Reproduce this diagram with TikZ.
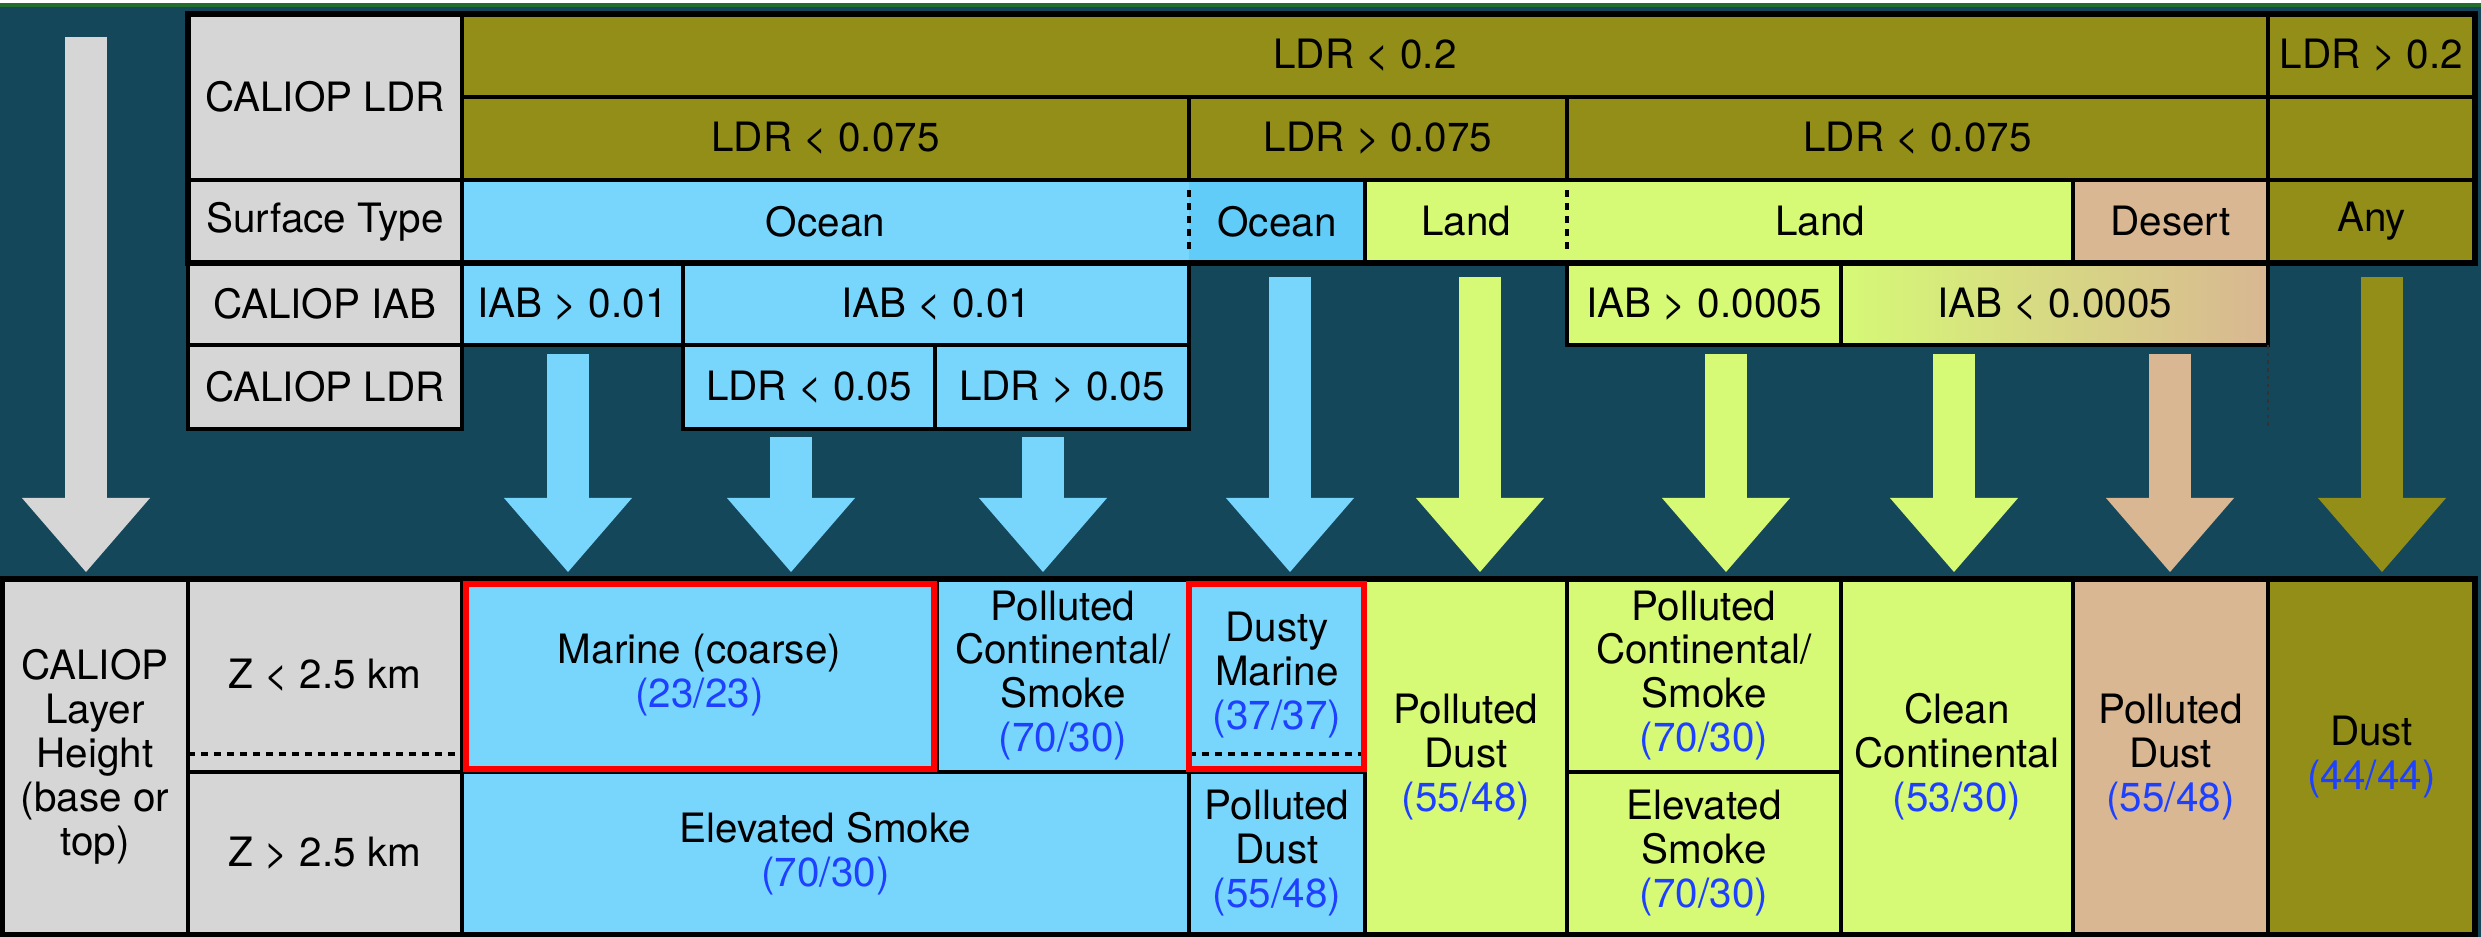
\documentclass[tikz,border=0pt]{standalone}
\usepackage{fontspec}
\setmainfont{TeX Gyre Heros}
\usepackage{xcolor}
\usetikzlibrary{arrows.meta}

\definecolor{bgteal}{RGB}{21,71,91}
\definecolor{olv}{RGB}{147,142,24}
\definecolor{skyb}{RGB}{120,214,253}
\definecolor{oceanb}{RGB}{98,204,248}
\definecolor{limeg}{RGB}{214,249,118}
\definecolor{tanc}{RGB}{216,183,146}
\definecolor{lgray}{RGB}{214,214,214}
\definecolor{numblue}{RGB}{30,64,255}
\definecolor{topgreen}{RGB}{35,110,45}

\newcommand{\cellfont}{\fontsize{11.5pt}{12.5pt}\selectfont}
\newcommand{\rnum}[1]{\textcolor{numblue}{(#1)}}

\begin{document}
\begin{tikzpicture}[x=0.01cm,y=-0.01cm,
  cell/.style={draw=black,line width=1.1pt,fill=#1,inner sep=0pt,outer sep=0pt,
    anchor=north west,align=center,font=\cellfont},
  cellnb/.style={cell=#1,draw=none},
  sz/.style 2 args={minimum width=#1*0.01cm,minimum height=#2*0.01cm},
  border/.style={draw=black,line width=1.1pt},
  outer/.style={draw=black,line width=1.5pt},
  dashln/.style={draw=black,line width=1pt,dash pattern=on 2pt off 1.7pt},
  redbox/.style={draw=red,line width=1.7pt},
  fatarrow/.style={draw=#1,line width=0.42cm,-{Triangle[width=1.28cm,length=0.74cm,line width=0pt]}}]
\useasboundingbox (0,0) rectangle (2481,937);

% background
\fill[bgteal] (0,0) rectangle (2481,937);
\fill[white] (0,0) rectangle (2481,3);
\fill[topgreen] (0,3) rectangle (2481,7);

% Header: CALIOP LDR rows
\node[cell=lgray, sz={274}{166}] (ldrhdr) at (188,14) {CALIOP LDR};
\node[cell=olv, sz={1806}{83}] (ldrlow) at (462,14) {LDR < 0.2};
\node[cell=olv, sz={207}{83}] (ldrhigh) at (2268,14) {LDR > 0.2};
\node[cell=olv, sz={727}{83}] (ldrA) at (462,97) {LDR < 0.075};
\node[cell=olv, sz={378}{83}] (ldrB) at (1189,97) {LDR > 0.075};
\node[cell=olv, sz={701}{83}] (ldrC) at (1567,97) {LDR < 0.075};
\node[cell=olv, sz={207}{83}] (ldrD) at (2268,97) {};

% Surface type row
\node[cell=lgray, sz={274}{83}] (surfhdr) at (188,180) {Surface Type};
\node[cellnb=skyb, sz={727}{83}] (ocean1) at (462,180) {Ocean};
\node[cellnb=oceanb, sz={176}{83}] (ocean2) at (1189,180) {Ocean};
\node[cellnb=limeg, sz={202}{83}] (land1) at (1365,180) {Land};
\node[cellnb=limeg, sz={506}{83}] (land2) at (1567,180) {Land};
\node[cell=tanc, sz={195}{83}] (desert) at (2073,180) {Desert};
\node[cell=olv, sz={207}{83}] (anysurf) at (2268,180) {Any};
\draw[border] (ocean1.north west) rectangle (land2.south east);
\draw[border] (ocean2.north east) -- (ocean2.south east);
\draw[dashln, shorten <=0.1cm, shorten >=0.1cm] (ocean1.north east) -- (ocean1.south east);
\draw[dashln, shorten <=0.1cm, shorten >=0.1cm] (land1.north east) -- (land1.south east);

% CALIOP IAB row
\node[cell=lgray, sz={274}{82}] (iabhdr) at (188,263) {CALIOP IAB};
\node[cell=skyb, sz={221}{82}] (iabA) at (462,263) {IAB > 0.01};
\node[cell=skyb, sz={506}{82}] (iabB) at (683,263) {IAB < 0.01};
\node[cell=limeg, sz={274}{82}] (iabC) at (1567,263) {IAB > 0.0005};
\node[cell=limeg, left color=limeg, right color=tanc, sz={427}{82}] (iabD) at (1841,263) {IAB < 0.0005};
\draw[black!80, line width=0.6pt, dash pattern=on 1pt off 1.2pt] (iabD.south east) -- ++(0,82);

% second CALIOP LDR row
\node[cell=lgray, sz={274}{84}] (ldrhdr2) at (188,345) {CALIOP LDR};
\node[cell=skyb, sz={252}{84}] (ldrE) at (683,345) {LDR < 0.05};
\node[cell=skyb, sz={254}{84}] (ldrF) at (935,345) {LDR > 0.05};

\draw[outer] (ldrhdr.north west) rectangle (anysurf.south east);

% Bottom table: aerosol types
\node[cell=lgray, sz={186}{356}] (lhgt) at (2,579) {CALIOP\\Layer\\Height\\(base or\\top)};
\node[cell=lgray, sz={274}{193}] (zlow) at (188,579) {Z < 2.5 km};
\node[cell=lgray, sz={274}{163}] (zhigh) at (188,772) {Z > 2.5 km};
\node[cell=skyb, sz={475}{193}] (marine) at (462,579) {Marine (coarse)\\\rnum{23/23}};
\node[cell=skyb, sz={252}{193}] (pcsA) at (937,579) {Polluted\\Continental/\\Smoke\\\rnum{70/30}};
\node[cell=skyb, sz={176}{193}] (dmarine) at (1189,579) {Dusty\\Marine\\\rnum{37/37}};
\node[cell=skyb, sz={727}{163}] (esmA) at (462,772) {Elevated Smoke\\\rnum{70/30}};
\node[cell=skyb, sz={176}{163}] (pdustA) at (1189,772) {Polluted\\Dust\\\rnum{55/48}};
\node[cell=limeg, sz={202}{356}] (pdustB) at (1365,579) {Polluted\\Dust\\\rnum{55/48}};
\node[cell=limeg, sz={274}{193}] (pcsB) at (1567,579) {Polluted\\Continental/\\Smoke\\\rnum{70/30}};
\node[cell=limeg, sz={274}{163}] (esmB) at (1567,772) {Elevated\\Smoke\\\rnum{70/30}};
\node[cell=limeg, sz={232}{356}] (clean) at (1841,579) {Clean\\Continental\\\rnum{53/30}};
\node[cell=tanc, sz={195}{356}] (pdustC) at (2073,579) {Polluted\\Dust\\\rnum{55/48}};
\node[cell=olv, sz={207}{356}] (dust) at (2268,579) {Dust\\\rnum{44/44}};
\draw[outer] (lhgt.north west) rectangle (dust.south east);

% dashed 2.5 km marks
\draw[dashln] (188,754) -- (462,754);
\draw[dashln] (1189,754) -- (1365,754);

% highlighted types
\draw[redbox] (466,584) rectangle (934,769);
\draw[redbox] (1189,584) rectangle (1364,769);

% arrows down to the types
\foreach \n/\x/\y/\c in {agry/86/37/lgray, amar/568/354/skyb, amarb/791/437/skyb,
    apcs/1043/437/skyb, admar/1290/277/skyb, apdu/1480/277/limeg, apcsb/1726/354/limeg,
    acln/1954/354/limeg, apdut/2170/354/tanc, adust/2382/277/olv}
{
  \coordinate (\n-s) at (\x,\y);
  \coordinate (\n-e) at (\x,572);
  \draw[fatarrow=\c] (\n-s) -- (\n-e);
}
\end{tikzpicture}
\end{document}
